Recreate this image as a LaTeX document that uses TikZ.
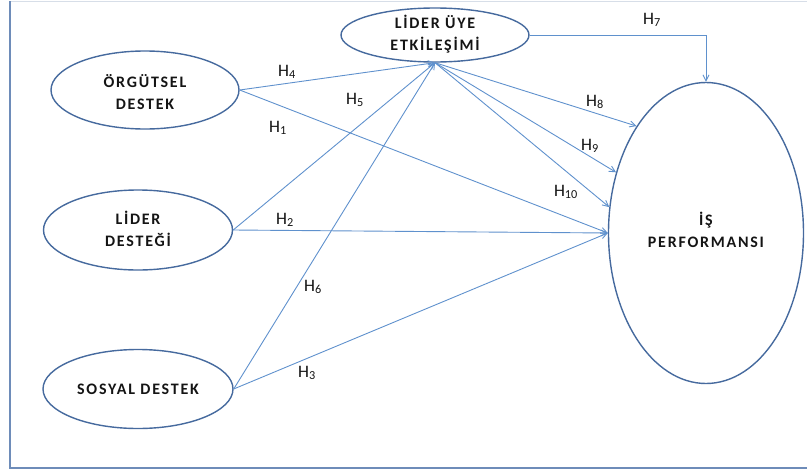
\documentclass[tikz,border=0pt]{standalone}
\usepackage{fontspec}
\setmainfont{Carlito}
\usetikzlibrary{shapes.geometric,arrows.meta}
\definecolor{ellcol}{RGB}{70,106,158}
\definecolor{lncol}{RGB}{95,145,205}
\definecolor{framecol}{RGB}{110,140,185}
\definecolor{topcol}{RGB}{215,222,232}
\definecolor{txtcol}{RGB}{20,20,20}
\begin{document}
\begin{tikzpicture}[x=1pt,y=-1pt,
  ell/.style={draw=ellcol,line width=1.4pt,ellipse,inner sep=0pt},
  etext/.style={font=\addfontfeatures{LetterSpace=11}\fontsize{16}{22}\selectfont\bfseries,text=txtcol,align=center,inner sep=0pt},
  conn/.style={draw=lncol,line width=0.9pt,-{Straight Barb[length=6pt,width=6pt]}},
  hlab/.style={font=\fontsize{17.5}{19}\selectfont,text=txtcol,inner sep=0pt}]
\useasboundingbox (0,0) rectangle (807,474);
% frame
\draw[topcol,line width=1pt] (10,1) -- (807,1);
\draw[framecol,line width=2pt] (10,1) -- (10,468) -- (807,468);
% nodes
\node[ell,minimum width=188pt,minimum height=54pt] (lue) at (435,35) {};
\node[etext] (luet) at (435,34) {LİDER ÜYE\\ETKİLEŞİMİ};
\node[ell,minimum width=188pt,minimum height=78pt] (org) at (145,90) {};
\node[etext] (orgt) at (145,92) {ÖRGÜTSEL\\DESTEK};
\node[ell,minimum width=189pt,minimum height=80pt] (lid) at (138,230) {};
\node[etext] (lidt) at (138,229) {LİDER\\DESTEĞİ};
\node[ell,minimum width=190pt,minimum height=79pt] (sos) at (138,389) {};
\node[etext] (sost) at (138,389) {SOSYAL DESTEK};
\node[ell,minimum width=195pt,minimum height=301pt] (ip) at (706,233) {};
\node[etext] (ipt) at (706,230) {İŞ\\PERFORMANSI};
% connectors
\draw[conn] (org.east) -- (lue.south);
\draw[conn] (lid.east) -- (lue.south);
\draw[conn] (sos.east) -- (lue.south);
\draw[conn] (org.east) -- (ip.west);
\draw[conn] (lid.east) -- (ip.west);
\draw[conn] (sos.east) -- (ip.west);
\draw[conn] (lue.south) -- (ip.123);
\draw[conn] (lue.south) -- (ip.146);
\draw[conn] (lue.south) -- (ip.165);
\draw[conn] (lue.east) -| (ip.north);
% labels
\node[hlab] (h7) at (652,20) {H\textsubscript{7}};
\node[hlab] (h4) at (287,72) {H\textsubscript{4}};
\node[hlab] (h5) at (355,100) {H\textsubscript{5}};
\node[hlab] (h1) at (278,128) {H\textsubscript{1}};
\node[hlab] (h2) at (285,220) {H\textsubscript{2}};
\node[hlab] (h6) at (313,287) {H\textsubscript{6}};
\node[hlab] (h3) at (307,373) {H\textsubscript{3}};
\node[hlab] (h8) at (595,102) {H\textsubscript{8}};
\node[hlab] (h9) at (590,146) {H\textsubscript{9}};
\node[hlab] (h10) at (566,192) {H\textsubscript{10}};
\end{tikzpicture}
\end{document}
